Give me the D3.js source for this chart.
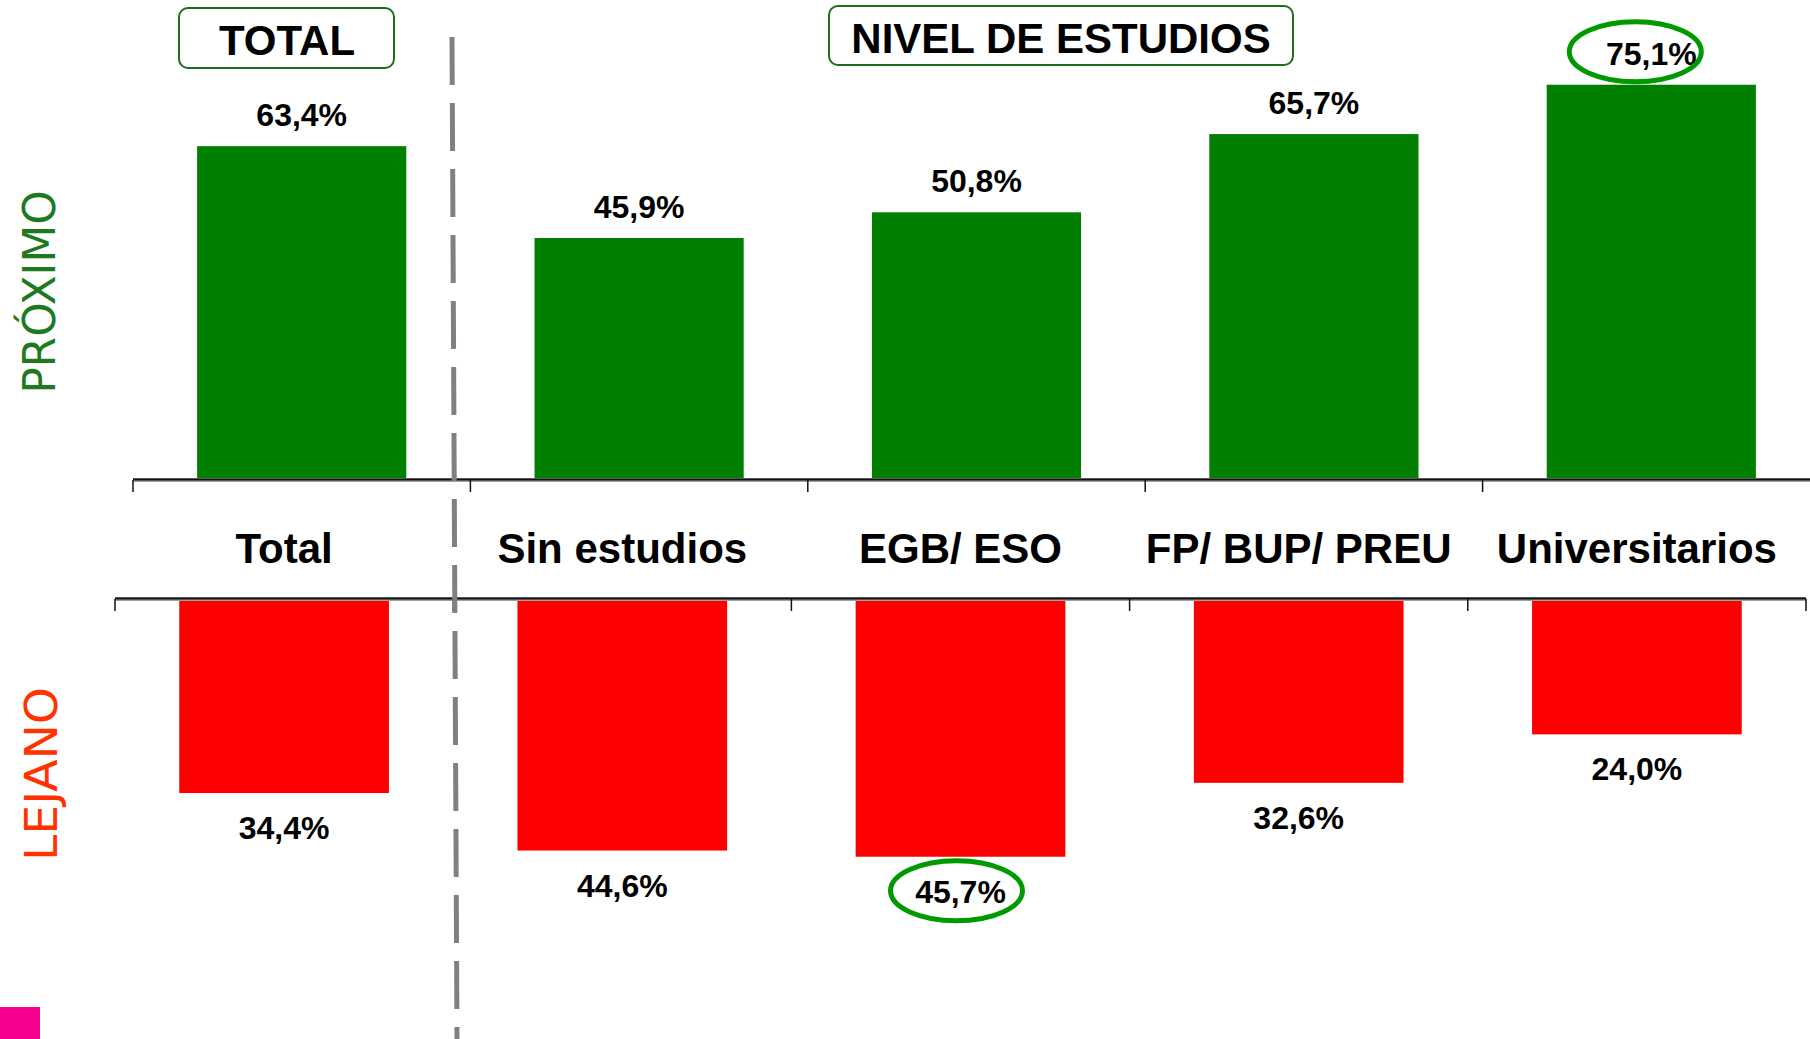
<!DOCTYPE html>
<html>
<head>
<meta charset="utf-8">
<script src="https://cdn.jsdelivr.net/npm/d3@7"></script>
<style>
  html, body { margin: 0; padding: 0; background: #ffffff; }
  svg { display: block; }
</style>
</head>
<body>
<svg id="chart" width="1810" height="1039"></svg>
<script>
// ---- data ----
const categories = ["Total", "Sin estudios", "EGB/ ESO", "FP/ BUP/ PREU", "Universitarios"];
const proximoValues = [63.4, 45.9, 50.8, 65.7, 75.1];
const lejanoValues = [34.4, 44.6, 45.7, 32.6, 24.0];
const proximoLabels = ["63,4%", "45,9%", "50,8%", "65,7%", "75,1%"];
const lejanoLabels = ["34,4%", "44,6%", "45,7%", "32,6%", "24,0%"];
const highlightedProximo = ["Universitarios"];
const highlightedLejano = ["EGB/ ESO"];
const headerTotal = "TOTAL";
const headerNivel = "NIVEL DE ESTUDIOS";

// ---- layout ----
const svg = d3.select("#chart");
const font = "Arial, 'Liberation Sans', Helvetica, sans-serif";
const green = "#007f00";
const red = "#ff0000";
const ringGreen = "#009a00";

// top chart
const xTop = d3.scaleBand().domain(categories).range([133, 1820]).paddingInner(0.38).paddingOuter(0.19);
const yTop = d3.scaleLinear().domain([0, 100]).range([479, 479 - 525]);
// bottom chart
const xBot = d3.scaleBand().domain(categories).range([115, 1806]).paddingInner(0.38).paddingOuter(0.19);
const yBot = d3.scaleLinear().domain([0, 100]).range([599, 599 + 564]);

const topData = categories.map((c, i) => ({ c, v: proximoValues[i], l: proximoLabels[i] }));
const botData = categories.map((c, i) => ({ c, v: lejanoValues[i], l: lejanoLabels[i] }));

// pink corner square
svg.append("rect").attr("x", 0).attr("y", 1007).attr("width", 40).attr("height", 32).attr("fill", "#f5008f");

// top bars
svg.append("g").selectAll("rect").data(topData).join("rect")
  .attr("x", d => xTop(d.c))
  .attr("y", d => yTop(d.v))
  .attr("width", xTop.bandwidth())
  .attr("height", d => yTop(0) - yTop(d.v))
  .attr("fill", green);

// bottom bars
svg.append("g").selectAll("rect").data(botData).join("rect")
  .attr("x", d => xBot(d.c))
  .attr("y", yBot(0))
  .attr("width", xBot.bandwidth())
  .attr("height", d => yBot(d.v) - yBot(0))
  .attr("fill", red);

// axes
function drawAxis(x, y, x0, x1) {
  const g = svg.append("g");
  g.append("line").attr("x1", x0).attr("x2", x1).attr("y1", y).attr("y2", y)
    .attr("stroke", "#a0a0a0").attr("stroke-width", 4);
  g.append("line").attr("x1", x0).attr("x2", x1).attr("y1", y - 0.5).attr("y2", y - 0.5)
    .attr("stroke", "#111").attr("stroke-width", 2);
  const step = x.step();
  const ticks = categories.map(c => x(c) + x.bandwidth() / 2 - step / 2);
  ticks.push(ticks[ticks.length - 1] + step);
  g.selectAll("line.tick").data(ticks).join("line").attr("class", "tick")
    .attr("x1", d => d).attr("x2", d => d).attr("y1", y).attr("y2", y + 12)
    .attr("stroke", "#111").attr("stroke-width", 1.5);
}
drawAxis(xTop, 480, 133, 1810);
drawAxis(xBot, 599, 115, 1806);

// category labels
svg.append("g").selectAll("text").data(categories).join("text")
  .attr("x", d => xBot(d) + xBot.bandwidth() / 2)
  .attr("y", 563)
  .attr("text-anchor", "middle")
  .attr("font-family", font).attr("font-weight", "bold").attr("font-size", 42)
  .attr("fill", "#000")
  .text(d => d);

// value labels
svg.append("g").selectAll("text").data(topData).join("text")
  .attr("x", d => xTop(d.c) + xTop.bandwidth() / 2)
  .attr("y", d => yTop(d.v) - 20)
  .attr("text-anchor", "middle")
  .attr("font-family", font).attr("font-weight", "bold").attr("font-size", 32)
  .text(d => d.l);

svg.append("g").selectAll("text").data(botData).join("text")
  .attr("x", d => xBot(d.c) + xBot.bandwidth() / 2)
  .attr("y", d => yBot(d.v) + 46)
  .attr("text-anchor", "middle")
  .attr("font-family", font).attr("font-weight", "bold").attr("font-size", 32)
  .text(d => d.l);

// highlight ellipses
svg.append("g").selectAll("ellipse").data(topData.filter(d => highlightedProximo.includes(d.c))).join("ellipse")
  .attr("cx", d => xTop(d.c) + xTop.bandwidth() / 2 - 16)
  .attr("cy", d => yTop(d.v) - 33)
  .attr("rx", 66).attr("ry", 30)
  .attr("fill", "none").attr("stroke", ringGreen).attr("stroke-width", 5);

svg.append("g").selectAll("ellipse").data(botData.filter(d => highlightedLejano.includes(d.c))).join("ellipse")
  .attr("cx", d => xBot(d.c) + xBot.bandwidth() / 2 - 4)
  .attr("cy", d => yBot(d.v) + 34)
  .attr("rx", 66).attr("ry", 30)
  .attr("fill", "none").attr("stroke", ringGreen).attr("stroke-width", 5);

// dashed divider
svg.append("line").attr("x1", 452).attr("y1", 37).attr("x2", 457).attr("y2", 1039)
  .attr("stroke", "#808080").attr("stroke-width", 5).attr("stroke-dasharray", "48 18");

// header boxes
function headerBox(x, y, w, h, label, cx, by) {
  svg.append("rect").attr("x", x).attr("y", y).attr("width", w).attr("height", h)
    .attr("rx", 9).attr("ry", 9)
    .attr("fill", "#fff").attr("stroke", "#1b6e1b").attr("stroke-width", 2);
  svg.append("text").attr("x", cx).attr("y", by).attr("text-anchor", "middle")
    .attr("font-family", font).attr("font-weight", "bold").attr("font-size", 42)
    .text(label);
}
headerBox(179, 8, 215, 60, headerTotal, 287, 55);
headerBox(829, 6, 464, 59, headerNivel, 1061, 53);

// side labels
const sideFont = "'Comic Sans MS', 'DejaVu Sans', sans-serif";
svg.append("text")
  .attr("transform", "translate(55,292) rotate(-90)")
  .attr("text-anchor", "middle")
  .attr("font-family", sideFont).attr("font-size", 44)
  .attr("textLength", 203).attr("lengthAdjust", "spacingAndGlyphs")
  .attr("fill", "#1f7a1f")
  .text("PRÓXIMO");
svg.append("text")
  .attr("transform", "translate(57,774) rotate(-90)")
  .attr("text-anchor", "middle")
  .attr("font-family", sideFont).attr("font-size", 44)
  .attr("textLength", 174).attr("lengthAdjust", "spacingAndGlyphs")
  .attr("fill", "#ff3300")
  .text("LEJANO");
</script>
</body>
</html>
